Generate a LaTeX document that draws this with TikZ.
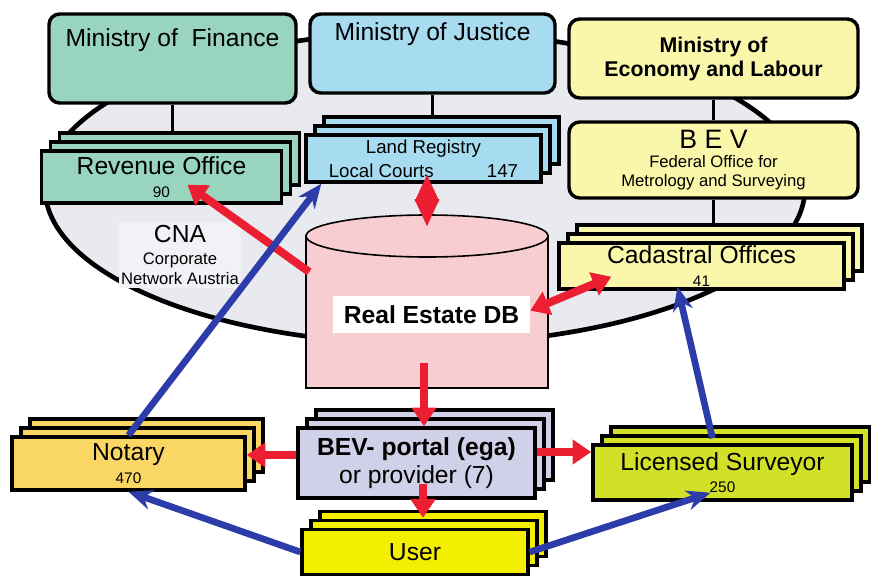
\documentclass[tikz,border=0pt]{standalone}
\usepackage{fontspec}
\setmainfont{Liberation Sans}
\usetikzlibrary{positioning,shapes.geometric,shadows,arrows.meta,calc,backgrounds}

\definecolor{fingreen}{RGB}{152,212,190}
\definecolor{jusblue}{RGB}{166,219,240}
\definecolor{ecoyellow}{RGB}{250,246,170}
\definecolor{dbpink}{RGB}{248,205,210}
\definecolor{portallilac}{RGB}{208,208,232}
\definecolor{useryellow}{RGB}{244,238,0}
\definecolor{notarygold}{RGB}{250,214,100}
\definecolor{survgreen}{RGB}{210,224,40}
\definecolor{cnagrey}{RGB}{232,234,240}
\definecolor{flowred}{RGB}{236,30,50}
\definecolor{flowblue}{RGB}{44,60,168}

\newcommand{\numsize}{\fontsize{11.5}{13}\selectfont}
\newcommand{\smallsize}{\fontsize{12.5}{14}\selectfont}

\begin{document}
\begin{tikzpicture}[x=0.75pt,y=-0.75pt,
font=\fontsize{18.5}{21}\selectfont,
ministry/.style={draw,line width=2.6pt,rounded corners=8pt,inner sep=0pt,align=center},
office/.style={draw,line width=2.6pt,inner sep=0pt,align=center,
    copy shadow={shadow xshift=13.5pt,shadow yshift=13.5pt},
    copy shadow={shadow xshift=6.75pt,shadow yshift=6.75pt}},
link/.style={line width=2.2pt},
data/.style={draw=flowred,line width=6pt,>={Triangle[length=14pt,width=18pt]}},
access/.style={draw=flowblue,line width=5pt,>={Stealth[length=18pt,width=15pt]}}]
\useasboundingbox (0,0) rectangle (871,582);

\begin{scope}[on background layer]
\draw[fill=cnagrey,line width=3.5pt] (425,188) ellipse [x radius=285pt,y radius=117pt];
\end{scope}

\node (cna) [fill=white!40!cnagrey,inner sep=2pt,align=center] at (180,255)
    {CNA\\[-4pt]{\smallsize Corporate}\\[-6pt]{\smallsize Network Austria}};

% ministries
\node (mfin) [ministry,fill=fingreen,minimum width=185.25pt,minimum height=66.75pt,
    label={[anchor=north,yshift=-8.5pt]north:{Ministry of\ \ Finance}}] at (172.5,58.5) {};
\node (mjus) [ministry,fill=jusblue,minimum width=183.75pt,minimum height=59.25pt,
    label={[anchor=north,yshift=-4.5pt]north:{Ministry of Justice}}] at (432.5,53.5) {};
\node (meco) [ministry,fill=ecoyellow,minimum width=216.75pt,minimum height=59.25pt,
    font=\fontsize{16}{18}\selectfont\bfseries] at (713.5,58.5) {Ministry of\\Economy and Labour};
\node (bev) [ministry,fill=ecoyellow,minimum width=216.75pt,minimum height=57pt,
    font=\smallsize] at (713.5,160)
    {{\fontsize{20}{22}\selectfont B E V}\\Federal Office for\\Metrology and Surveying};

% offices
\node (rev) [office,fill=fingreen,minimum width=180pt,minimum height=39pt] at (161.5,177)
    {Revenue Office\\[-4pt]{\numsize 90}};
\node (land) [office,fill=jusblue,minimum width=176.25pt,minimum height=35.25pt,
    font=\fontsize{14}{18}\selectfont] at (423.5,158.5)
    {Land Registry\\Local Courts\hspace{40pt}147};
\node (cad) [office,fill=ecoyellow,minimum width=213.75pt,minimum height=34.5pt] at (701.5,266)
    {Cadastral Offices\\[-4pt]{\numsize 41}};

% database
\node (db) [draw,line width=1.2pt,fill=dbpink,minimum width=181.5pt,minimum height=114pt,
    inner sep=0pt] at (427,312) {};
\node (dbtop) [ellipse,draw,line width=1.2pt,fill=dbpink,minimum width=181.5pt,
    minimum height=31.5pt,inner sep=0pt] at (427,236) {};
\node (dblabel) [fill=white,minimum width=147.75pt,minimum height=27.75pt,
    font=\fontsize{18.5}{21}\selectfont\bfseries] at (431.5,314.5) {Real Estate DB};

% access side
\node (portal) [office,fill=portallilac,minimum width=177.75pt,minimum height=52.5pt] at (416.5,463)
    {\textbf{BEV- portal (ega)}\\or provider (7)};
\node (user) [office,fill=useryellow,minimum width=169.5pt,minimum height=33.75pt] at (415,552) {User};
\node (notary) [office,fill=notarygold,minimum width=174.75pt,minimum height=39.75pt] at (128.5,463.5)
    {Notary\\[-4pt]{\numsize 470}};
\node (surv) [office,fill=survgreen,minimum width=194.25pt,minimum height=41.25pt] at (722.5,472.5)
    {Licensed Surveyor\\[-5pt]{\numsize 250}};

\begin{scope}[on background layer]
\draw[link] (mfin.south) -- (mfin.south |- rev.north);
\draw[link] (mjus.south) -- (mjus.south |- land.north);
\draw[link] (meco.south) -- (bev.north);
\draw[link] (bev.south) -- (bev.south |- cad.north);
\end{scope}

% data flows
\draw[data,->] ($(db.west)+(4,-40)$) -- ($(rev.south)+(26,-20)$);
\draw[data,>={Triangle[length=21pt,width=17pt]},<->] ($(land.south)+(3.5,-10)$) -- ($(dbtop.north)+(0,13)$);
\draw[data,<->] ($(dblabel.east)+(0,-4)$) -- ($(cad.south west)+(54,-14)$);
\draw[data,->] ($(db.south)+(-3,-26)$) -- ($(portal.north)+(7.5,0)$);
\draw[data,->] ($(portal.west)+(0,-8)$) -- ($(notary.east)+(0,-8.5)$);
\draw[data,->] ($(portal.east)+(0,-11)$) -- ($(surv.west)+(0,-20.5)$);
\draw[data,->] ($(portal.south)+(6.5,-16)$) -- ($(user.north)+(8,-10)$);

% access
\draw[access,->] (notary.north) -- ($(land.south west)+(17,0)$);
\draw[access,->] (user.west) -- (notary.south);
\draw[access,->] (user.east) -- ($(surv.south)+(-12,-9)$);
\draw[access,->] ($(surv.north)+(-10,-5)$) -- ($(cad.south)+(-24,-4)$);
\end{tikzpicture}
\end{document}
